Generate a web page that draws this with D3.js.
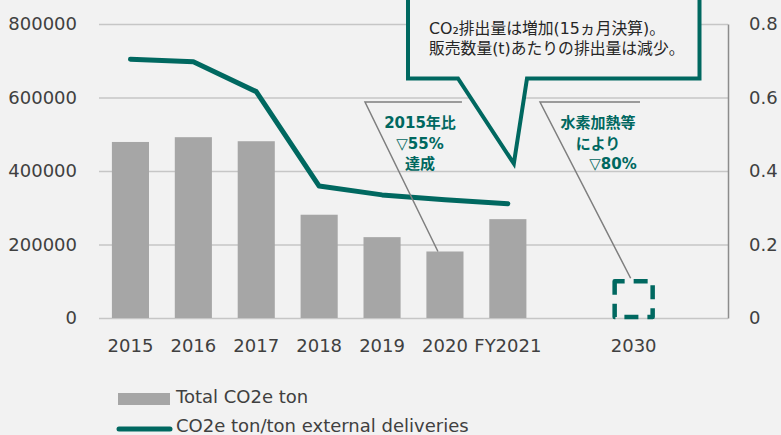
<!DOCTYPE html>
<html lang="ja">
<head>
  <meta charset="UTF-8">
  <title>CO2e</title>
  <script src="https://d3js.org/d3.v7.min.js"></script>
  <style>
    body { margin: 0; background: #f2f2f2; }
    svg { display: block; }
    svg text { font-family: "DejaVu Sans", "Noto Sans CJK JP", sans-serif; }
  </style>
</head>
<body>
  <div id="chart"></div>

  <script>
    // data
    const categories = ["2015", "2016", "2017", "2018", "2019", "2020", "FY2021", "gap1", "2030", "gap2"];
    const totalCO2e = [479000, 492000, 481000, 281000, 220000, 181000, 269000];
    const perTon = [0.704, 0.697, 0.616, 0.359, 0.335, 0.322, 0.311];
    const leftTicks = [0, 200000, 400000, 600000, 800000];
    const rightTicks = [0, 0.2, 0.4, 0.6, 0.8];
    const target2030 = 0.1;
    const calloutLines = ["CO₂排出量は増加(15ヵ月決算)。", "販売数量(t)あたりの排出量は減少。"];
    const note2020 = ["2015年比", "▽55%", "達成"];
    const note2030 = ["水素加熱等", "により", "▽80%"];
    const legendItems = ["Total CO2e ton", "CO2e ton/ton external deliveries"];

    const W = 781, H = 435;
    const pLeft = 99, pRight = 728, pTop = 24, pBottom = 318;
    const teal = "#006860", grey = "#a6a6a6", grid = "#c6c6c6", textCol = "#404040";

    const svg = d3.select("#chart").append("svg")
      .attr("width", W).attr("height", H);
    svg.append("rect").attr("width", W).attr("height", H).attr("fill", "#f2f2f2");

    const x = d3.scaleBand().domain(categories).range([pLeft, pRight])
      .paddingInner(0.41).paddingOuter(0.205);
    const y = d3.scaleLinear().domain([0, 800000]).range([pBottom, pTop]);
    const yR = d3.scaleLinear().domain([0, 0.8]).range([pBottom, pTop]);
    const cx = c => x(c) + x.bandwidth() / 2;

    // left axis + gridlines
    const gL = svg.append("g").attr("transform", `translate(${pLeft},0)`)
      .call(d3.axisLeft(y).tickValues(leftTicks).tickSize(-(pRight - pLeft)).tickPadding(22).tickFormat(d3.format("d")));
    gL.select(".domain").remove();
    gL.selectAll("line").attr("stroke", grid).attr("stroke-width", 1.5);
    gL.selectAll("text").attr("fill", textCol).style("font-size", "18px");

    // right axis
    const gR = svg.append("g").attr("transform", `translate(${pRight},0)`)
      .call(d3.axisRight(yR).tickValues(rightTicks).tickSize(0).tickPadding(21)
        .tickFormat(d => d === 0 ? "0" : d.toFixed(1)));
    gR.select(".domain").attr("stroke", "#8c8c8c").attr("stroke-width", 1.5);
    gR.selectAll("text").attr("fill", textCol).style("font-size", "18px");

    // x axis labels
    const gX = svg.append("g").attr("transform", `translate(0,${pBottom})`)
      .call(d3.axisBottom(x).tickSize(0).tickPadding(21).tickFormat(d => d.startsWith("gap") ? "" : d));
    gX.select(".domain").remove();
    gX.selectAll("text").attr("fill", textCol).style("font-size", "18px");

    // bars
    svg.selectAll(".bar").data(totalCO2e).enter().append("rect")
      .attr("class", "bar")
      .attr("x", (d, i) => x(categories[i]))
      .attr("y", d => y(d))
      .attr("width", x.bandwidth())
      .attr("height", d => y(0) - y(d))
      .attr("fill", grey);

    // line
    const line = d3.line().x((d, i) => cx(categories[i])).y(d => yR(d));
    svg.append("path").datum(perTon)
      .attr("d", line)
      .attr("fill", "none")
      .attr("stroke", teal)
      .attr("stroke-width", 5)
      .attr("stroke-linejoin", "round")
      .attr("stroke-linecap", "round");

    // 2030 target box
    const bx = cx("2030");
    svg.append("rect")
      .attr("x", bx - 19).attr("y", yR(target2030))
      .attr("width", 38).attr("height", yR(0) - yR(target2030) - 1)
      .attr("fill", "none").attr("stroke", teal).attr("stroke-width", 4.5)
      .attr("stroke-dasharray", "14 9").attr("stroke-dashoffset", 4)
      .attr("stroke-linejoin", "round");

    // leader lines
    const lead = svg.append("g").attr("fill", "none").attr("stroke", "#7f7f7f").attr("stroke-width", 1.5);
    lead.append("path")
      .attr("d", `M${cx("2020") + 17},102 H365 L${cx("2020") - 7},${y(totalCO2e[5])}`);
    lead.append("path")
      .attr("d", `M640,102 H540 L${bx - 3},${yR(target2030) - 3}`);

    // annotation texts
    const noteText = (lines, xs, y0) => {
      lines.forEach((t, i) => {
        svg.append("text")
          .attr("x", xs[i]).attr("y", y0 + i * 20.5)
          .attr("text-anchor", "middle")
          .attr("fill", teal)
          .style("font-size", "15px").style("font-weight", "bold")
          .text(t);
      });
    };
    noteText(note2020, [420, 420, 420], 128);
    noteText(note2030, [598, 598, 613], 128);

    // callout
    const tipX = cx("FY2021") + 6, tipY = yR(0.42);
    svg.append("path")
      .attr("d", `M408,-10 H699.5 V78.5 H527 L${tipX},${tipY} L458,78.5 H408 Z`)
      .attr("fill", "#f2f2f2")
      .attr("stroke", teal)
      .attr("stroke-width", 4)
      .attr("stroke-linejoin", "miter");
    calloutLines.forEach((t, i) => {
      svg.append("text")
        .attr("x", 429).attr("y", 34 + i * 19.5)
        .attr("fill", "#262626")
        .style("font-size", "15.8px")
        .text(t);
    });

    // legend
    const lg = svg.append("g");
    lg.append("rect").attr("x", 118).attr("y", 393).attr("width", 52).attr("height", 12).attr("fill", grey);
    lg.append("line").attr("x1", 119).attr("x2", 170).attr("y1", 429).attr("y2", 429)
      .attr("stroke", teal).attr("stroke-width", 5).attr("stroke-linecap", "round");
    legendItems.forEach((t, i) => {
      lg.append("text").attr("x", 176).attr("y", 403 + i * 29)
        .attr("fill", textCol).style("font-size", "18px").text(t);
    });
  </script>
</body>
</html>
